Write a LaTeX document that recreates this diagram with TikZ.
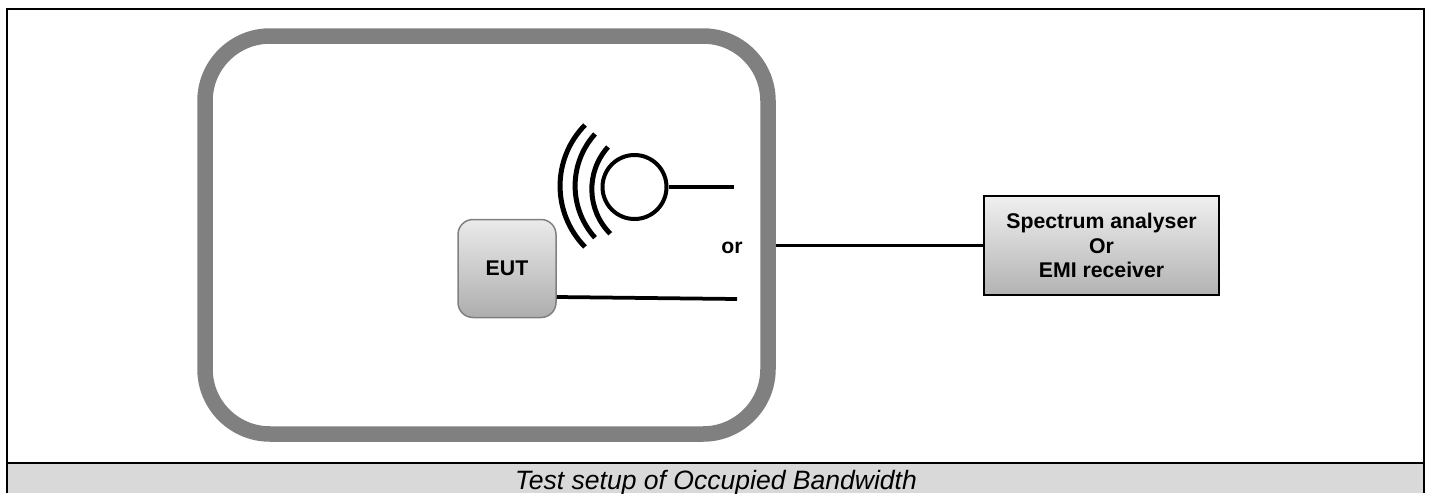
\documentclass[tikz,border=0pt]{standalone}
\usepackage{fontspec}
\setmainfont{Liberation Sans}
\tikzset{
  wire/.style={line width=0.075cm},
  wave/.style={line width=0.1cm},
  label/.style={font=\fontsize{12.1}{14}\selectfont\bfseries,align=center},
  chamber/.style={draw=black!50,line width=0.31cm,rounded corners=1.3cm,minimum width=11.26cm,minimum height=7.96cm},
  euttbox/.style={draw=black!50,line width=0.03cm,rounded corners=0.3cm,top color=black!8,bottom color=black!32,minimum width=1.96cm,minimum height=1.96cm},
  rxbox/.style={draw=black,line width=0.04cm,top color=black!6,bottom color=black!30,minimum width=4.7cm,minimum height=1.98cm}
}
\begin{document}
\begin{tikzpicture}
    \useasboundingbox (0,0) rectangle (28.64,9.86);
    \fill[black!15] (0.14,0) rectangle (28.48,0.6);
    \draw[line width=0.05cm] (0.14,0) -- (0.14,9.68) -- (28.48,9.68) -- (28.48,0);
    \draw[line width=0.05cm] (0.14,0.6) -- (28.48,0.6);
    \node[font=\fontsize{15.1}{18}\selectfont\itshape,anchor=base] (caption) at (14.32,0.08) {Test setup of Occupied Bandwidth};
    \node[chamber] (room) at (9.73,5.16) {};
    \node[euttbox,label] (eut) at (10.14,4.49) {EUT};
    \node[circle,draw,line width=0.08cm,minimum size=1.28cm] (probe) at (12.69,6.12) {};
    \node[label] (or) at (14.64,4.91) {or};
    \node[rxbox,label] (rx) at (22.03,4.95) {Spectrum analyser\\Or\\EMI receiver};
    \coordinate (probeend) at (14.68,6.12);
    \coordinate (eutend) at (14.74,3.88);
    \draw[wire] (probe.east) -- (probeend);
    \draw[wire] ([yshift=-0.57cm]eut.east) -- (eutend);
    \draw[wire] (rx.west -| room.east) -- (rx.west);
    \draw[wave] (11.70,7.36) arc (135.5:224.5:1.74);
    \draw[wave] (11.90,7.18) arc (138:222:1.55);
    \draw[wave] (12.16,6.92) arc (138:225:1.26);
\end{tikzpicture}
\end{document}
